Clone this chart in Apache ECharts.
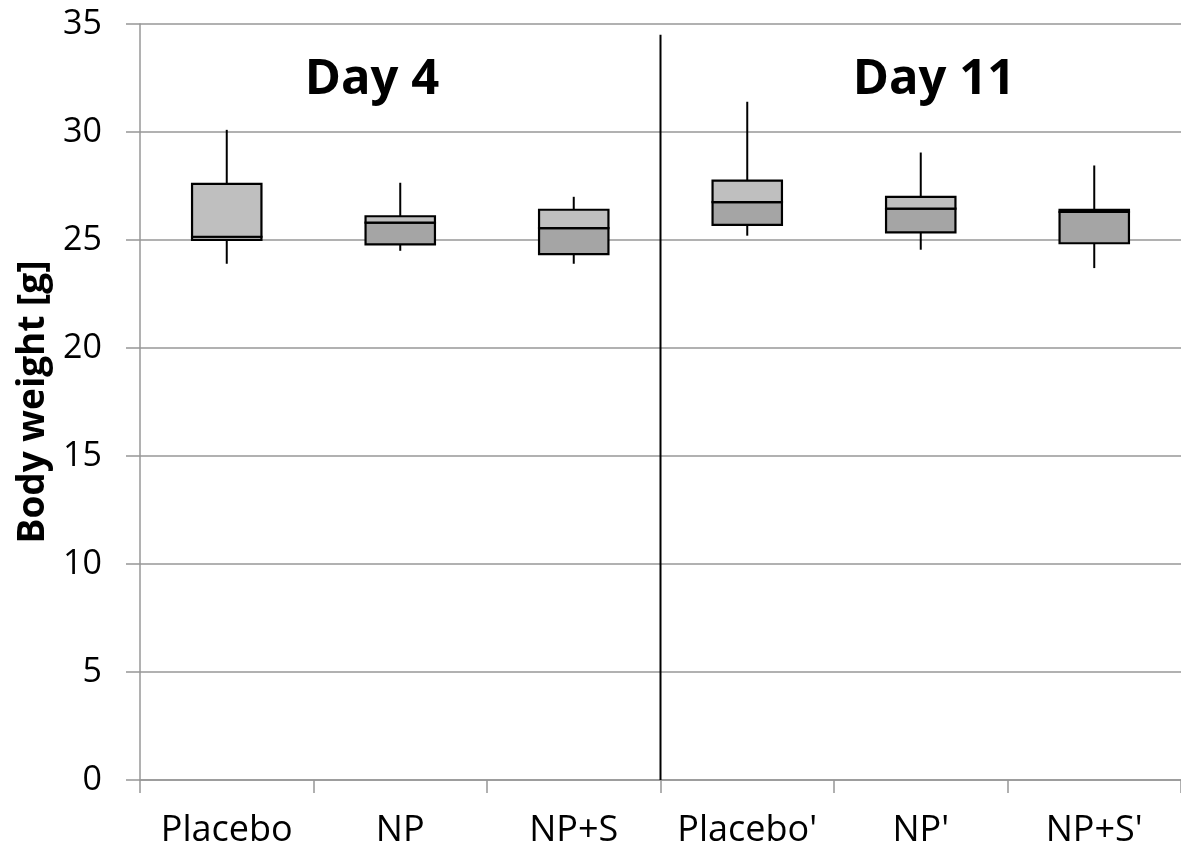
<!DOCTYPE html>
<html>
<head>
<meta charset="utf-8">
<script src="https://cdn.jsdelivr.net/npm/echarts@6/dist/echarts.min.js"></script>
<style>
html,body{margin:0;padding:0;background:#fff;}
#chart{width:1181px;height:849px;}
</style>
</head>
<body>
<div id="chart"></div>
<script>
const categories = ["Placebo", "NP", "NP+S", "Placebo'", "NP'", "NP+S'"];
const mins    = [23.9, 24.5, 23.9, 25.2, 24.55, 23.7];
const q1s     = [25.0, 24.8, 24.35, 25.7, 25.35, 24.85];
const medians = [25.15, 25.8, 25.55, 26.75, 26.45, 26.3];
const q3s     = [27.6, 26.1, 26.4, 27.75, 27.0, 26.4];
const maxs    = [30.1, 27.65, 27.0, 31.4, 29.05, 28.45];
const yTicks  = [0, 5, 10, 15, 20, 25, 30, 35];
const panelTitles = ["Day 4", "Day 11"];

const data = categories.map((c, i) => [i, mins[i], q1s[i], medians[i], q3s[i], maxs[i]]);

const chart = echarts.init(document.getElementById('chart'), null, {renderer: 'canvas'});
const gridColor = '#979797';

const option = {
  backgroundColor: '#fff',
  animation: false,
  grid: {left: 140, right: -4, top: 24, bottom: 68, containLabel: false},
  xAxis: {
    type: 'category',
    data: categories,
    boundaryGap: true,
    axisLine: {show: true, lineStyle: {color: gridColor, width: 1.5}},
    axisTick: {show: true, length: 13, lineStyle: {color: gridColor, width: 1.5}},
    axisLabel: {color: '#000', fontFamily: 'Open Sans', fontSize: 36, margin: 33, interval: 0},
    splitLine: {show: false}
  },
  yAxis: {
    type: 'value',
    min: yTicks[0],
    max: yTicks[yTicks.length - 1],
    interval: 5,
    name: 'Body weight [g]',
    nameLocation: 'middle',
    nameGap: 86,
    nameTextStyle: {color: '#000', fontFamily: 'Open Sans', fontWeight: 'bold', fontSize: 37},
    axisLine: {show: true, lineStyle: {color: gridColor, width: 1.5}},
    axisTick: {show: true, inside: false, length: 14, lineStyle: {color: gridColor, width: 1.5}},
    axisLabel: {color: '#000', fontFamily: 'Open Sans', fontSize: 34, margin: 38},
    splitLine: {show: true, lineStyle: {color: gridColor, width: 1.5}}
  },
  series: [{
    type: 'custom',
    data: data,
    encode: {x: 0, y: [1, 2, 3, 4, 5]},
    renderItem: function (params, api) {
      const x = api.value(0);
      const pMin = api.coord([x, api.value(1)]);
      const pQ1 = api.coord([x, api.value(2)]);
      const pMed = api.coord([x, api.value(3)]);
      const pQ3 = api.coord([x, api.value(4)]);
      const pMax = api.coord([x, api.value(5)]);
      const bw = api.size([1, 0])[0] * 0.4;
      const cx = pMed[0];
      const stroke = {stroke: '#000', lineWidth: 2};
      return {
        type: 'group',
        children: [
          {type: 'line', shape: {x1: cx, y1: pMax[1], x2: cx, y2: pQ3[1]}, style: stroke},
          {type: 'line', shape: {x1: cx, y1: pQ1[1], x2: cx, y2: pMin[1]}, style: stroke},
          {type: 'rect', shape: {x: cx - bw / 2, y: pMed[1], width: bw, height: pQ1[1] - pMed[1]},
            style: {fill: '#a5a5a5', stroke: '#000', lineWidth: 2.2}},
          {type: 'rect', shape: {x: cx - bw / 2, y: pQ3[1], width: bw, height: pMed[1] - pQ3[1]},
            style: {fill: '#bfbfbf', stroke: '#000', lineWidth: 2.2}}
        ]
      };
    }
  }]
};
chart.setOption(option);

// divider between the two panels and panel titles
const c2 = chart.convertToPixel({xAxisIndex: 0}, categories[2]);
const c3 = chart.convertToPixel({xAxisIndex: 0}, categories[3]);
const divX = (c2 + c3) / 2;
const yTop = chart.convertToPixel({yAxisIndex: 0}, 34.5);
const yBot = chart.convertToPixel({yAxisIndex: 0}, 0);
chart.setOption({
  graphic: [
    {type: 'line', shape: {x1: divX, y1: yTop, x2: divX, y2: yBot}, style: {stroke: '#000', lineWidth: 2}, z: 10},
    {type: 'text', x: 372, y: 80, style: {text: panelTitles[0], fill: '#000', font: 'bold 49px "Open Sans"', align: 'center', verticalAlign: 'middle'}},
    {type: 'text', x: 934, y: 80, style: {text: panelTitles[1], fill: '#000', font: 'bold 49px "Open Sans"', align: 'center', verticalAlign: 'middle'}}
  ]
});
</script>
</body>
</html>
